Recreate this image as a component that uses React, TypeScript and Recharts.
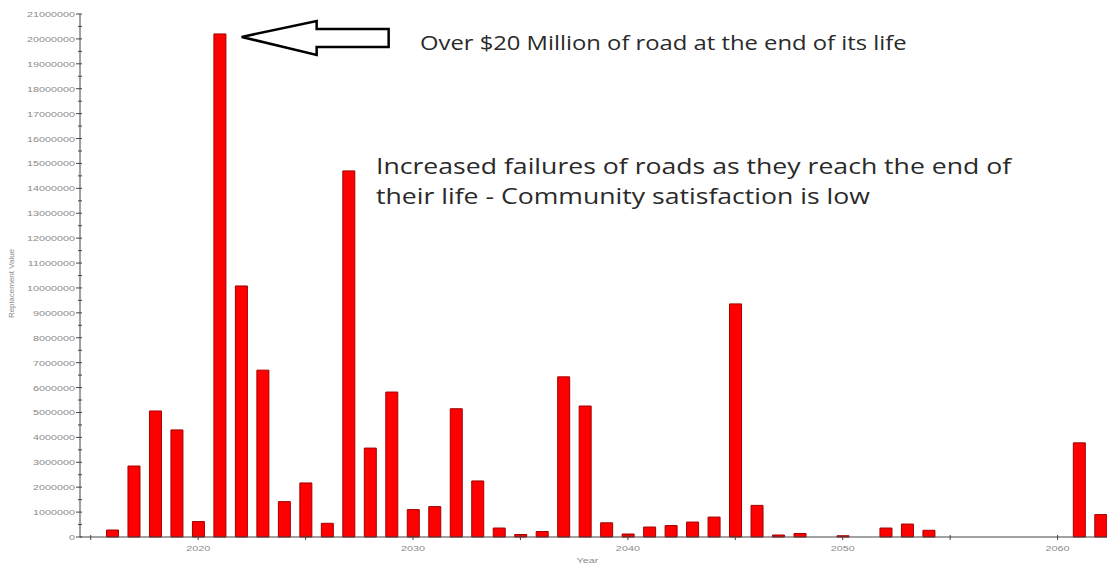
import { ComposedChart, Bar, XAxis, YAxis, ReferenceDot, Customized } from "recharts";

const years = [
  2016, 2017, 2018, 2019, 2020, 2021, 2022, 2023, 2024, 2025, 2026, 2027, 2028, 2029, 2030, 2031,
  2032, 2033, 2034, 2035, 2036, 2037, 2038, 2039, 2040, 2041, 2042, 2043, 2044, 2045, 2046, 2047,
  2048, 2049, 2050, 2051, 2052, 2053, 2054, 2055, 2056, 2057, 2058, 2059, 2060, 2061, 2062,
];

// replacement value in dollars
const replacementValue = [
  280000, 2850000, 5060000, 4300000, 620000, 20200000, 10080000, 6700000, 1420000, 2170000, 550000,
  14700000, 3570000, 5820000, 1100000, 1220000, 5150000, 2250000, 360000, 100000, 220000, 6430000,
  5260000, 570000, 120000, 400000, 460000, 600000, 800000, 9360000, 1270000, 80000, 140000, 0, 50000,
  0, 360000, 520000, 270000, 0, 0, 0, 0, 0, 0, 3780000, 900000,
];

const yTicks = Array.from({ length: 43 }, (_, i) => i * 500000);
const xTicks = [2015, 2020, 2025, 2030, 2035, 2040, 2045, 2050, 2055, 2060];

const peakNote = "Over $20 Million of road at the end of its life";
const failureNote = [
  "Increased failures of roads as they reach the end of",
  "their life - Community satisfaction is low",
];

const data = years.map((year, i) => ({ year, value: replacementValue[i] }));

const AXIS = "#444";
const LABEL = "#8a8a8a";
const SMALL_FONT = "Liberation Sans, Arial, sans-serif";

function YTick({ x, y, payload }: any) {
  const v = payload.value as number;
  const major = v % 1000000 === 0;
  return (
    <g>
      <line x1={x + (major ? 0 : 2)} x2={x + 6} y1={y} y2={y} stroke={AXIS} strokeWidth={1} />
      {major && (
        <text
          transform={`translate(${x - 1},${y + 3}) scale(1.35,1)`}
          textAnchor="end"
          fontSize={8}
          fontFamily={SMALL_FONT}
          fill={LABEL}
        >
          {v}
        </text>
      )}
    </g>
  );
}

function XTick({ x, y, payload }: any) {
  const v = payload.value as number;
  return (
    <g>
      <line x1={x} x2={x} y1={y - 2} y2={y + 3} stroke={AXIS} strokeWidth={1} />
      {v % 10 === 0 && (
        <text
          transform={`translate(${x},${y + 14}) scale(1.35,1)`}
          textAnchor="middle"
          fontSize={8}
          fontFamily={SMALL_FONT}
          fill={LABEL}
        >
          {v}
        </text>
      )}
    </g>
  );
}

function YLabel({ viewBox }: any) {
  const x = viewBox.x + 14;
  const y = viewBox.y + viewBox.height / 2 + 8;
  return (
    <text
      transform={`translate(${x},${y}) rotate(-90)`}
      textAnchor="middle"
      fontSize={8}
      fontFamily={SMALL_FONT}
      fill={LABEL}
    >
      Replacement Value
    </text>
  );
}

function XLabel({ viewBox }: any) {
  const x = viewBox.x + viewBox.width / 2 - 6;
  return (
    <text
      transform={`translate(${x},${viewBox.y + 26}) scale(1.35,1)`}
      textAnchor="middle"
      fontSize={8}
      fontFamily={SMALL_FONT}
      fill={LABEL}
    >
      Year
    </text>
  );
}

// hollow arrow pointing at the peak bar, tip placed relative to the dot
function Arrow({ cx, cy }: any) {
  const tx = cx + 22;
  const ty = cy + 3;
  const pts = [
    [0, 0],
    [75, -16],
    [75, -8],
    [147, -8],
    [147, 10],
    [75, 10],
    [75, 18],
  ]
    .map(([dx, dy]) => `${tx + dx},${ty + dy}`)
    .join(" ");
  return <polygon points={pts} fill="#fff" stroke="#000" strokeWidth={2.5} strokeLinejoin="miter" />;
}

function Notes() {
  return (
    <g fontFamily="Open Sans, sans-serif" fill="#2a2a2a">
      <text transform="translate(420,50) scale(1.19,1)" fontSize={20}>
        {peakNote}
      </text>
      {failureNote.map((line, i) => (
        <text key={line} transform={`translate(376,${174 + i * 30}) scale(1.21,1)`} fontSize={22}>
          {line}
        </text>
      ))}
    </g>
  );
}

export default function App() {
  return (
    <div style={{ position: "absolute", left: 0, top: 0, width: 1107, height: 565, background: "#fff", overflow: "hidden" }}>
      <ComposedChart width={1107} height={565} data={data} margin={{ top: 14, right: 0, left: 0, bottom: 0 }}>
        <XAxis
          dataKey="year"
          type="number"
          domain={[2014.5, 2062.3]}
          allowDataOverflow
          ticks={xTicks}
          interval={0}
          height={28}
          stroke={AXIS}
          tickLine={false}
          tickSize={0}
          tickMargin={0}
          tick={<XTick />}
          label={<XLabel />}
        />
        <YAxis
          type="number"
          domain={[0, 21000000]}
          ticks={yTicks}
          interval={0}
          width={80}
          stroke={AXIS}
          tickLine={false}
          tickSize={0}
          tickMargin={4}
          tick={<YTick />}
          label={<YLabel />}
        />
        <Bar dataKey="value" barSize={12} fill="#ff0000" stroke="#a00000" strokeWidth={1} isAnimationActive={false} />
        <ReferenceDot x={2021} y={20200000} r={0} ifOverflow="visible" shape={<Arrow />} />
        <Customized component={Notes} />
      </ComposedChart>
    </div>
  );
}
